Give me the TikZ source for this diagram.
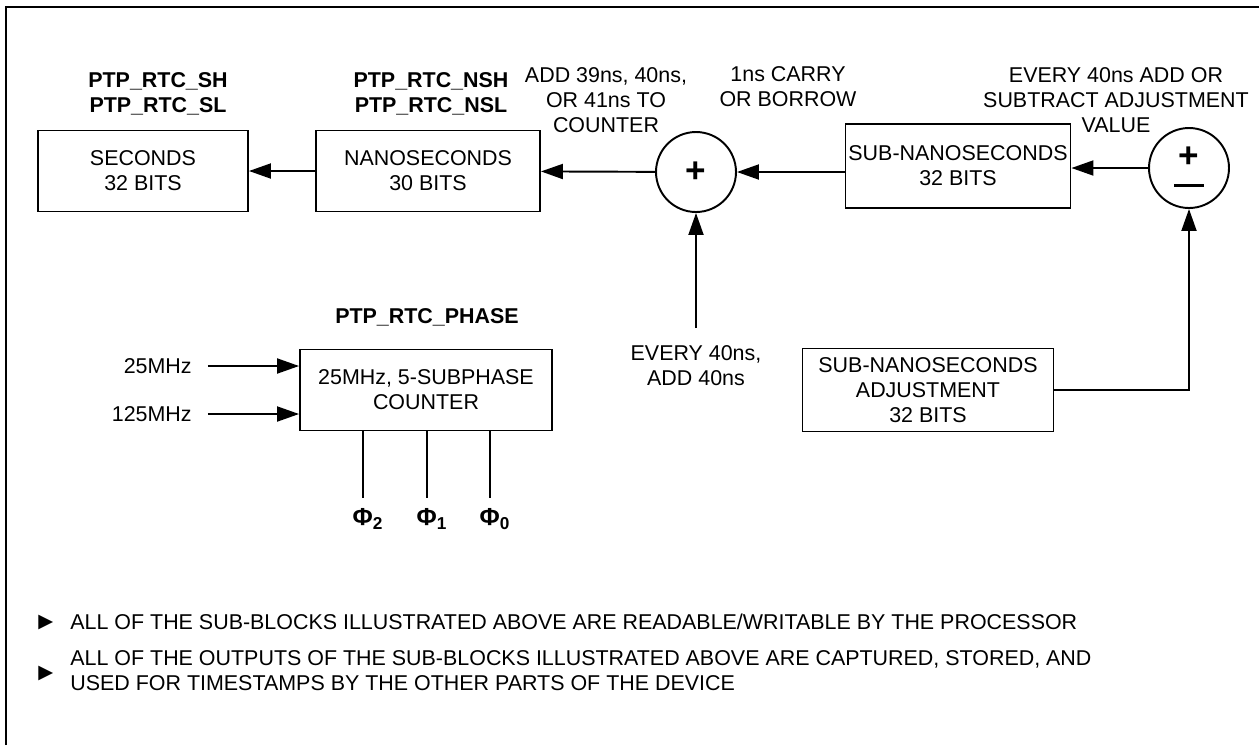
\documentclass[tikz,border=0pt]{standalone}
\usepackage{fontspec}
\setmainfont{Liberation Sans}
\newfontfamily\symbolfont{DejaVu Sans}
\usetikzlibrary{arrows.meta}

\begin{document}
\begin{tikzpicture}[
    x=0.02cm, y=-0.02cm,
    every node/.style={font=\fontsize{12.2}{14.2}\selectfont, inner sep=0pt},
    block/.style={rectangle, draw, line width=1.1pt, align=center,
                  minimum height=1.62cm},
    adder/.style={circle, draw, line width=1.1pt, minimum size=1.6cm,
                  align=center, font=\fontsize{20}{18}\selectfont\bfseries},
    sign/.style={font=\fontsize{20}{18}\selectfont\bfseries},
    reg/.style={font=\fontsize{12.2}{14.2}\selectfont\bfseries, align=center},
    note/.style={align=center},
    wire/.style={line width=1.1pt},
    flow/.style={wire, -{Triangle[length=0.44cm, width=0.3cm]}}
]
    \useasboundingbox (0,0) rectangle (1259,745);

    % Frame (top and left edges)
    \draw[line width=1.6pt] (6,745) -- (6,7) -- (1259,7);

    % Time registers
    \node[block, minimum width=4.2cm] (sec) at (143,171) {SECONDS\\32 BITS};
    \node[block, minimum width=4.48cm] (nsec) at (428,171) {NANOSECONDS\\30 BITS};
    \node[adder] (add) at (696,172) {+};
    \node[block, minimum width=4.5cm, minimum height=1.68cm] (subns) at (958,166)
        {SUB-NANOSECONDS\\32 BITS};
    \node[adder] (pm) at (1189,168) {};
    \node[sign] (pmplus) at (1189,157) {+};
    \draw[line width=1.4pt] ([xshift=-8.5pt, yshift=-10pt]pm.center) -- ++(17pt,0);

    \node[reg] (secreg) at (158,94) {PTP\_RTC\_SH\\PTP\_RTC\_SL};
    \node[reg] (nsecreg) at (431,94) {PTP\_RTC\_NSH\\PTP\_RTC\_NSL};
    \node[note] (addnote) at (606,100) {ADD 39ns, 40ns,\\OR 41ns TO\\COUNTER};
    \node[note] (carry) at (788,87) {1ns CARRY\\OR BORROW};
    \node[note] (adjnote) at (1116,100)
        {EVERY 40ns ADD OR\\SUBTRACT ADJUSTMENT\\VALUE};

    % Arrows along the counter chain
    \draw[flow] (nsec) -- (sec);
    \draw[flow] (add) -- (nsec);
    \draw[flow] (subns.west |- add.west) -- (add.east);
    \draw[flow] (pm.west) -- (subns.east |- pm.west);

    % 40ns increment
    \node[note] (every) at (696,366) {EVERY 40ns,\\ADD 40ns};
    \draw[flow, shorten <=10pt] (every.north) -- (add.south);

    % Adjustment register
    \node[block, minimum width=5.02cm, minimum height=1.66cm] (adj) at (928,390)
        {SUB-NANOSECONDS\\ADJUSTMENT\\32 BITS};
    \draw[flow] (adj.east) -| (pm.south);

    % Phase counter
    \node[reg] (phasereg) at (427,317) {PTP\_RTC\_PHASE};
    \node[block, minimum width=5.04cm] (phase) at (426,390)
        {25MHz, 5-SUBPHASE\\COUNTER};
    \node[anchor=east] (clka) at (192,366) {25MHz};
    \node[anchor=east] (clkb) at (192,414) {125MHz};
    \draw[flow, shorten <=9pt] (clka.east) -- (clka.east -| phase.west);
    \draw[flow, shorten <=9pt] (clkb.east) -- (clkb.east -| phase.west);

    \foreach \name/\xpos/\idx in {phitwo/363/2, phione/427/1, phizero/490/0} {
        \node[reg, font=\fontsize{14}{14}\selectfont\bfseries] (\name)
            at (\xpos+5,519) {Φ\textsubscript{\idx}};
        \draw[wire, shorten >=12pt] (phase.south -| \xpos,0) -- (\xpos,519);
    }

    % Notes
    \node[anchor=west] (markone) at (38,622) {\symbolfont\fontsize{11}{11}\selectfont ▶};
    \node[anchor=west] (noteone) at (70,622)
        {ALL OF THE SUB-BLOCKS ILLUSTRATED ABOVE ARE READABLE/WRITABLE BY THE PROCESSOR};
    \node[anchor=west] (marktwo) at (38,673) {\symbolfont\fontsize{11}{11}\selectfont ▶};
    \node[anchor=west, align=left] (notetwo) at (70,671)
        {ALL OF THE OUTPUTS OF THE SUB-BLOCKS ILLUSTRATED ABOVE ARE CAPTURED, STORED, AND\\
         USED FOR TIMESTAMPS BY THE OTHER PARTS OF THE DEVICE};

\end{tikzpicture}
\end{document}
